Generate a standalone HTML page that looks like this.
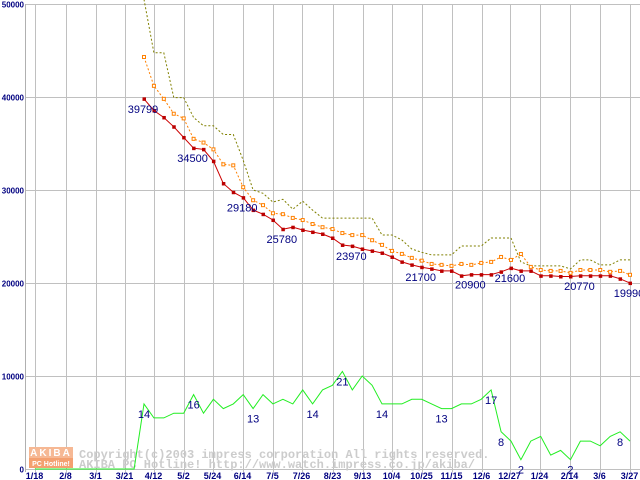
<!DOCTYPE html>
<html><head><meta charset="utf-8"><style>
html,body{margin:0;padding:0;background:#fff;}
svg{display:block;}
</style></head><body>
<svg id="chart" width="640" height="480" viewBox="0 0 640 480" xmlns="http://www.w3.org/2000/svg">
<g id="grid"></g>
<g id="watermark">
  <rect x="29" y="447" width="44" height="11" fill="#f6b894"/>
  <rect x="29" y="458" width="44" height="10" fill="#f4a070"/>
  <text x="51" y="456" font-family="Liberation Sans, sans-serif" font-size="10" font-weight="bold" fill="#fff" text-anchor="middle" letter-spacing="2">AKIBA</text>
  <text x="51" y="466" font-family="Liberation Sans, sans-serif" font-size="7" font-weight="bold" fill="#fff" text-anchor="middle">PC Hotline!</text>
  <text x="79" y="458" font-family="Liberation Mono, monospace" font-size="12" font-weight="bold" fill="#cccccc">Copyright(c)2003 impress corporation All rights reserved.</text>
  <text x="79" y="468" font-family="Liberation Mono, monospace" font-size="12" font-weight="bold" fill="#cccccc">AKIBA PC Hotline!  http://www.watch.impress.co.jp/akiba/</text>
</g>
<g id="series"></g>
<g id="labels"></g>
</svg>
<script>
const xTickLabels = ["1/18","2/8","3/1","3/21","4/12","5/2","5/24","6/14","7/5","7/26","8/23","9/13","10/4","10/25","11/15","12/6","12/27","1/24","2/14","3/6","3/27"];
const xTickPos = [35,66,96,125,154,184,213,243,273,302,333,363,392,422,452,482,510,540,570,600,630];
const yTicks = [0,10000,20000,30000,40000,50000];
const minPrice = [39799,38550,37800,36800,35650,34500,34370,33100,30700,29760,29180,27840,27400,26770,25780,26000,25700,25480,25270,24840,24090,23970,23660,23450,23230,22800,22270,21950,21700,21520,21300,21300,20770,20900,20900,20900,21200,21600,21300,21300,20770,20770,20700,20700,20770,20770,20770,20770,20450,19990];
const avgPrice = [44300,41200,39800,38200,37700,35500,35100,34370,32760,32650,30300,28900,28370,27500,27400,27000,26770,26340,26000,25800,25370,25150,25150,24600,24100,23450,23130,22700,22400,22050,21950,21840,22050,21950,22160,22270,22800,22480,23120,21730,21400,21300,21300,21090,21400,21400,21400,21200,21300,20880];
const maxPrice = [50500,44750,44750,39940,39940,37800,36900,36900,35970,35970,33190,30000,29650,28700,29000,27940,28800,27840,26980,26980,26980,26980,26980,26980,25160,25160,24620,23660,23300,23020,23020,23020,23980,23980,23980,24840,24840,24840,22270,21840,21840,21840,21840,21520,22480,22480,21950,21950,22480,22480];
const shopCount = [0,0,0,0,0,0,0,0,0,0,0,14,11,11,12,12,16,12,15,13,14,16,13,16,14,15,14,17,14,17,18,21,17,20,18,14,14,14,15,15,14,13,13,14,14,15,17,8,6,2,6,7,3,4,2,6,6,5,7,8,6];
const countOffset = 11;
const priceLabelIdx = [0,5,10,14,21,28,33,37,44,49];
const countLabelIdx = [0,5,11,17,20,24,30,35,36,38,43,48];

const NS="http://www.w3.org/2000/svg";
const X0=144, STEP=(630-144)/49;
function xAt(i){return X0+i*STEP;}
function yPrice(v){return 469-v*0.0093;}
function yCount(c){return 469-c*4.65;}
function mk(tag,attrs,parent){const e=document.createElementNS(NS,tag);for(const k in attrs)e.setAttribute(k,attrs[k]);parent.appendChild(e);return e;}
const grid=document.getElementById('grid'), series=document.getElementById('series'), labels=document.getElementById('labels');

yTicks.forEach(v=>{
  const y=Math.round(yPrice(v))+0.5;
  const l=mk('line',{x1:25,x2:640,y1:y,y2:y,stroke:'#c0c0c0','stroke-width':1},grid);
  
  
  const t=mk('text',{x:24,y:y+3,'text-anchor':'end','font-family':'Liberation Sans, sans-serif','font-size':8,'font-weight':'bold',fill:'#000080'},grid);
  t.textContent=v;
  
  
});
xTickLabels.forEach((s,k)=>{
  const x=xTickPos[k]+0.5;
  const l=mk('line',{x1:x,x2:x,y1:4,y2:472,stroke:'#c0c0c0','stroke-width':1},grid);
  
  
  const t=mk('text',{x:x-1,y:479,'text-anchor':'middle','font-family':'Liberation Sans, sans-serif','font-size':9,'font-weight':'bold',fill:'#000080'},grid);
  t.textContent=s;
  
  
});
const ax=mk('line',{x1:25.5,x2:25.5,y1:4,y2:472,stroke:'#b0b0b0','stroke-width':1},grid);



function pts(arr,fy,off){return arr.map((v,i)=>xAt(i-(off||0)).toFixed(1)+','+fy(v).toFixed(1)).join(' ');}
const gl=mk('polyline',{points:pts(shopCount,yCount,countOffset),fill:'none',stroke:'#22ee22','stroke-width':1},series);


const ol=mk('polyline',{points:pts(maxPrice,yPrice),fill:'none',stroke:'#808000','stroke-width':1,'stroke-dasharray':'2,2'},series);


const al=mk('polyline',{points:pts(avgPrice,yPrice),fill:'none',stroke:'#ff8000','stroke-width':1,'stroke-dasharray':'2,2'},series);


avgPrice.forEach((v,i)=>{
  const r=mk('rect',{x:xAt(i)-1.5,y:yPrice(v)-1.5,width:3,height:3,fill:'#fff',stroke:'#ff8000','stroke-width':1},series);
  
  
});
const rl=mk('polyline',{points:pts(minPrice,yPrice),fill:'none',stroke:'#cc0000','stroke-width':1},series);


minPrice.forEach((v,i)=>{
  const r=mk('rect',{x:xAt(i)-1.5,y:yPrice(v)-1.5,width:3.5,height:3.5,fill:'#bb0000'},series);
  
  
});
priceLabelIdx.forEach(i=>{
  const t=mk('text',{x:xAt(i)-1,y:yPrice(minPrice[i])+14,'text-anchor':'middle','font-family':'Liberation Sans, sans-serif','font-size':11,fill:'#000080'},labels);
  t.textContent=minPrice[i];
  
  
});
countLabelIdx.forEach(i=>{
  const c=shopCount[i+countOffset];
  const t=mk('text',{x:xAt(i),y:yCount(c)+14,'text-anchor':'middle','font-family':'Liberation Sans, sans-serif','font-size':11,fill:'#000080'},labels);
  t.textContent=c;
  
  
});
</script>
</body></html>
